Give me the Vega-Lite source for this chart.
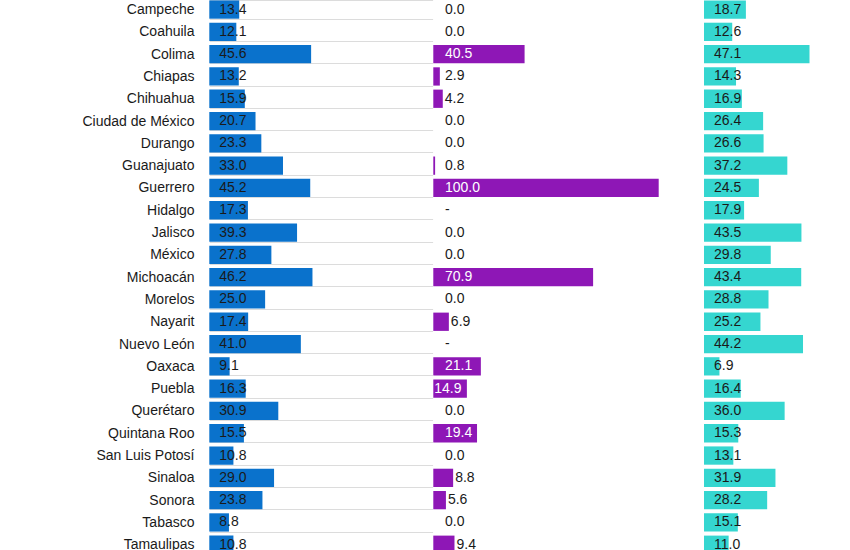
{
  "$schema": "https://vega.github.io/schema/vega-lite/v6.json",
  "width": 675,
  "height": 550,
  "padding": {"left": 163, "right": 12, "top": 0, "bottom": 0},
  "autosize": {"type": "none"},
  "background": "white",
  "config": {"view": {"stroke": null}, "font": "Liberation Sans", "text": {"font": "Liberation Sans"}},
  "data": {"values": [
    {"estado": "Campeche", "a": 13.4, "b": 0.0, "c": 18.7},
    {"estado": "Coahuila", "a": 12.1, "b": 0.0, "c": 12.6},
    {"estado": "Colima", "a": 45.6, "b": 40.5, "c": 47.1},
    {"estado": "Chiapas", "a": 13.2, "b": 2.9, "c": 14.3},
    {"estado": "Chihuahua", "a": 15.9, "b": 4.2, "c": 16.9},
    {"estado": "Ciudad de México", "a": 20.7, "b": 0.0, "c": 26.4},
    {"estado": "Durango", "a": 23.3, "b": 0.0, "c": 26.6},
    {"estado": "Guanajuato", "a": 33.0, "b": 0.8, "c": 37.2},
    {"estado": "Guerrero", "a": 45.2, "b": 100.0, "c": 24.5},
    {"estado": "Hidalgo", "a": 17.3, "b": null, "c": 17.9},
    {"estado": "Jalisco", "a": 39.3, "b": 0.0, "c": 43.5},
    {"estado": "México", "a": 27.8, "b": 0.0, "c": 29.8},
    {"estado": "Michoacán", "a": 46.2, "b": 70.9, "c": 43.4},
    {"estado": "Morelos", "a": 25.0, "b": 0.0, "c": 28.8},
    {"estado": "Nayarit", "a": 17.4, "b": 6.9, "c": 25.2},
    {"estado": "Nuevo León", "a": 41.0, "b": null, "c": 44.2},
    {"estado": "Oaxaca", "a": 9.1, "b": 21.1, "c": 6.9},
    {"estado": "Puebla", "a": 16.3, "b": 14.9, "c": 16.4},
    {"estado": "Querétaro", "a": 30.9, "b": 0.0, "c": 36.0},
    {"estado": "Quintana Roo", "a": 15.5, "b": 19.4, "c": 15.3},
    {"estado": "San Luis Potosí", "a": 10.8, "b": 0.0, "c": 13.1},
    {"estado": "Sinaloa", "a": 29.0, "b": 8.8, "c": 31.9},
    {"estado": "Sonora", "a": 23.8, "b": 5.6, "c": 28.2},
    {"estado": "Tabasco", "a": 8.8, "b": 0.0, "c": 15.1},
    {"estado": "Tamaulipas", "a": 10.8, "b": 9.4, "c": 11.0}
  ]},
  "encoding": {
    "y": {
      "field": "estado", "type": "nominal", "sort": null,
      "scale": {"range": [-1.6, 555.9], "paddingInner": 0.18, "paddingOuter": 0.09},
      "axis": {
        "title": null, "domain": false, "ticks": false, "tickSize": 0,
        "labelPadding": -31, "labelAlign": "right", "labelFontSize": 14,
        "labelColor": "#1a1a1a", "labelFont": "Liberation Sans",
        "grid": true, "tickBand": "extent", "gridColor": "#dcdcdc", "gridWidth": 1.2
      }
    }
  },
  "layer": [
    {
      "layer": [
        {
          "mark": {"type": "bar", "color": "#0a72cc"},
          "encoding": {"x": {"field": "a", "type": "quantitative", "scale": {"domain": [0, 100], "range": [46.3, 269.6]}, "axis": null}}
        },
        {
          "mark": {"type": "text", "align": "left", "dx": 10, "fontSize": 14, "color": "#1a1a1a"},
          "encoding": {
            "x": {"datum": 0, "type": "quantitative", "axis": null},
            "text": {"field": "a", "type": "quantitative", "format": ".1f"}
          }
        }
      ]
    },
    {
      "layer": [
        {
          "mark": {"type": "bar", "color": "#8e17b6"},
          "encoding": {"x": {"field": "b", "type": "quantitative", "scale": {"domain": [0, 100], "range": [270.3, 495.7]}, "axis": null}}
        },
        {
          "transform": [{"filter": "datum.b === null || datum.b < 4 || datum.b >= 17"}],
          "mark": {"type": "text", "align": "left", "dx": 11.7, "fontSize": 14},
          "encoding": {
            "x": {"datum": 0, "type": "quantitative", "axis": null},
            "text": {"condition": {"test": "datum.b === null", "value": "-"}, "field": "b", "type": "quantitative", "format": ".1f"},
            "color": {"condition": {"test": "datum.b !== null && datum.b >= 10", "value": "white"}, "value": "#1a1a1a"}
          }
        },
        {
          "transform": [{"filter": "datum.b !== null && datum.b >= 10 && datum.b < 17"}],
          "mark": {"type": "text", "align": "left", "dx": 1, "fontSize": 14, "color": "white"},
          "encoding": {
            "x": {"datum": 0, "type": "quantitative", "axis": null},
            "text": {"field": "b", "type": "quantitative", "format": ".1f"}
          }
        },
        {
          "transform": [{"filter": "datum.b !== null && datum.b >= 4 && datum.b < 10"}],
          "mark": {"type": "text", "align": "left", "dx": 2, "fontSize": 14, "color": "#1a1a1a"},
          "encoding": {
            "x": {"field": "b", "type": "quantitative", "axis": null},
            "text": {"field": "b", "type": "quantitative", "format": ".1f"}
          }
        }
      ]
    },
    {
      "layer": [
        {
          "mark": {"type": "bar", "color": "#35d6d0"},
          "encoding": {"x": {"field": "c", "type": "quantitative", "scale": {"domain": [0, 100], "range": [541, 765]}, "axis": null}}
        },
        {
          "mark": {"type": "text", "align": "left", "dx": 10, "fontSize": 14, "color": "#1a1a1a"},
          "encoding": {
            "x": {"datum": 0, "type": "quantitative", "axis": null},
            "text": {"field": "c", "type": "quantitative", "format": ".1f"}
          }
        }
      ]
    }
  ],
  "resolve": {"scale": {"x": "independent"}}
}
